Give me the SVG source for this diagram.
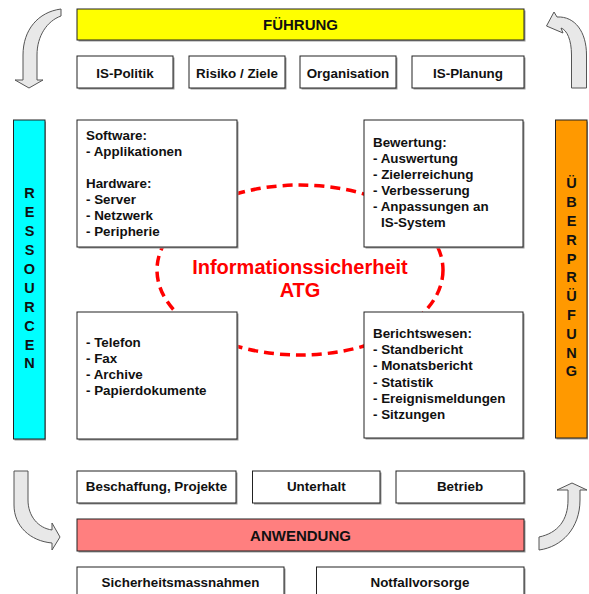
<svg xmlns="http://www.w3.org/2000/svg" width="589" height="594" viewBox="0 0 589 594">
  <style>
    text { font-family: "Liberation Sans", Arial, sans-serif; font-weight: bold; fill: #111; }
    .lbl { font-size: 13.4px; }
    .mid { text-anchor: middle; }
    .head { font-size: 15px; text-anchor: middle; }
    .vert { font-size: 14.5px; text-anchor: middle; }
    .box { fill: #fff; stroke: #222; stroke-width: 1; }
    .shadow { fill: #9a9a9a; }
    .arrow { fill: #e8e8e8; stroke: #555; stroke-width: 1; stroke-linejoin: miter; }
    .ring { fill: none; stroke: #f00; stroke-width: 3.5; stroke-dasharray: 10 6; }
    .core { font-size: 20px; text-anchor: middle; fill: #f00; }
  </style>

  <!-- dashed ring behind the four quadrant boxes -->
  <g id="core">
    <ellipse class="ring" cx="300" cy="270" rx="143" ry="85"/>
    <text class="core" x="300" y="274">Informationssicherheit</text>
    <text class="core" x="300" y="297">ATG</text>
  </g>

  <!-- cycle arrows -->
  <g id="connectors">
    <path class="arrow" d="M61,9 C38,12 23,30 23,55 L23,80 L15,80 L29,88 L43,80 L37,80 L37,55 C37,36 47,21 61,16 Z"/>
    <path class="arrow" d="M586.5,88 L586.5,55 C586.5,32 575,16 557,17 L554,12 L546.5,26 L563,33 L561,28 C567,30 571.5,40 571.5,55 L571.5,88 Z"/>
    <path class="arrow" d="M14,471 L28,471 L28,500 C28,516 38,528 52,530 L52,523 L60,537 L52,550 L52,543 C30,541 14,526 14,505 Z"/>
    <path class="arrow" d="M539,537 C558,533 568,520 568,500 L568,490 L557,490 L572,483 L587,490 L580,490 L580,500 C580,528 562,547 539,550 Z"/>
  </g>

  <!-- top band -->
  <g id="fuehrung">
    <rect class="shadow" x="78.5" y="10.5" width="447" height="31"/>
    <rect x="77" y="9" width="447" height="31" fill="#ffff00" stroke="#222"/>
    <text class="head" x="300.5" y="30">FÜHRUNG</text>
  </g>
  <g id="is-politik">
    <rect class="shadow" x="78.5" y="57.5" width="96" height="32"/>
    <rect class="box" x="77" y="56" width="96" height="32"/>
    <text class="lbl mid" x="125" y="78">IS-Politik</text>
  </g>
  <g id="risiko">
    <rect class="shadow" x="190.5" y="57.5" width="96" height="32"/>
    <rect class="box" x="189" y="56" width="96" height="32"/>
    <text class="lbl mid" x="237" y="78">Risiko / Ziele</text>
  </g>
  <g id="organisation">
    <rect class="shadow" x="301.5" y="57.5" width="96" height="32"/>
    <rect class="box" x="300" y="56" width="96" height="32"/>
    <text class="lbl mid" x="348" y="78">Organisation</text>
  </g>
  <g id="is-planung">
    <rect class="shadow" x="413.5" y="57.5" width="112" height="32"/>
    <rect class="box" x="412" y="56" width="112" height="32"/>
    <text class="lbl mid" x="468" y="78">IS-Planung</text>
  </g>

  <!-- side bars -->
  <g id="ressourcen">
    <rect class="shadow" x="14.5" y="121.5" width="31.5" height="319"/>
    <rect x="13.5" y="120" width="31.5" height="319" fill="#00ffff" stroke="#222"/>
    <text class="vert" x="29.5" y="198.3">R</text>
    <text class="vert" x="29.5" y="217.2">E</text>
    <text class="vert" x="29.5" y="236.1">S</text>
    <text class="vert" x="29.5" y="255">S</text>
    <text class="vert" x="29.5" y="273.9">O</text>
    <text class="vert" x="29.5" y="292.8">U</text>
    <text class="vert" x="29.5" y="311.7">R</text>
    <text class="vert" x="29.5" y="330.6">C</text>
    <text class="vert" x="29.5" y="349.5">E</text>
    <text class="vert" x="29.5" y="368.4">N</text>
  </g>
  <g id="ueberpruefung">
    <rect class="shadow" x="556.5" y="121.5" width="31.5" height="318"/>
    <rect x="555.5" y="120" width="31.5" height="318" fill="#ff9900" stroke="#222"/>
    <text class="vert" x="571.5" y="188.3">Ü</text>
    <text class="vert" x="571.5" y="207.1">B</text>
    <text class="vert" x="571.5" y="225.9">E</text>
    <text class="vert" x="571.5" y="244.7">R</text>
    <text class="vert" x="571.5" y="263.5">P</text>
    <text class="vert" x="571.5" y="282.3">R</text>
    <text class="vert" x="571.5" y="301.1">Ü</text>
    <text class="vert" x="571.5" y="319.9">F</text>
    <text class="vert" x="571.5" y="338.7">U</text>
    <text class="vert" x="571.5" y="357.5">N</text>
    <text class="vert" x="571.5" y="376.3">G</text>
  </g>

  <!-- quadrant boxes -->
  <g id="technik">
    <rect class="shadow" x="78.5" y="121.5" width="160" height="127"/>
    <rect class="box" x="77" y="120" width="160" height="127"/>
    <text class="lbl" x="86" y="140">Software:</text>
    <text class="lbl" x="86" y="156">- Applikationen</text>
    <text class="lbl" x="86" y="187.5">Hardware:</text>
    <text class="lbl" x="86" y="203.5">- Server</text>
    <text class="lbl" x="86" y="219.8">- Netzwerk</text>
    <text class="lbl" x="86" y="236">- Peripherie</text>
  </g>
  <g id="bewertung">
    <rect class="shadow" x="365.5" y="121.5" width="159" height="127"/>
    <rect class="box" x="364" y="120" width="159" height="127"/>
    <text class="lbl" x="373" y="147">Bewertung:</text>
    <text class="lbl" x="373" y="163">- Auswertung</text>
    <text class="lbl" x="373" y="179">- Zielerreichung</text>
    <text class="lbl" x="373" y="195">- Verbesserung</text>
    <text class="lbl" x="373" y="211">- Anpassungen an</text>
    <text class="lbl" x="381" y="227">IS-System</text>
  </g>
  <g id="kommunikation">
    <rect class="shadow" x="78.5" y="313.5" width="160" height="127"/>
    <rect class="box" x="77" y="312" width="160" height="127"/>
    <text class="lbl" x="86" y="346.5">- Telefon</text>
    <text class="lbl" x="86" y="362.5">- Fax</text>
    <text class="lbl" x="86" y="378.5">- Archive</text>
    <text class="lbl" x="86" y="395">- Papierdokumente</text>
  </g>
  <g id="berichtswesen">
    <rect class="shadow" x="365.5" y="313.5" width="159" height="126"/>
    <rect class="box" x="364" y="312" width="159" height="126"/>
    <text class="lbl" x="373" y="338">Berichtswesen:</text>
    <text class="lbl" x="373" y="354">- Standbericht</text>
    <text class="lbl" x="373" y="370">- Monatsbericht</text>
    <text class="lbl" x="373" y="386.5">- Statistik</text>
    <text class="lbl" x="373" y="402.5">- Ereignismeldungen</text>
    <text class="lbl" x="373" y="418.5">- Sitzungen</text>
  </g>

  <!-- bottom band -->
  <g id="beschaffung">
    <rect class="shadow" x="78.5" y="472.5" width="159" height="32"/>
    <rect class="box" x="77" y="471" width="159" height="32"/>
    <text class="lbl mid" x="156.5" y="491">Beschaffung, Projekte</text>
  </g>
  <g id="unterhalt">
    <rect class="shadow" x="254" y="472.5" width="127.5" height="32"/>
    <rect class="box" x="252.5" y="471" width="127.5" height="32"/>
    <text class="lbl mid" x="316.3" y="491">Unterhalt</text>
  </g>
  <g id="betrieb">
    <rect class="shadow" x="397.5" y="472.5" width="128" height="32"/>
    <rect class="box" x="396" y="471" width="128" height="32"/>
    <text class="lbl mid" x="460" y="491">Betrieb</text>
  </g>
  <g id="anwendung">
    <rect class="shadow" x="78.5" y="520.5" width="447" height="32"/>
    <rect x="77" y="519" width="447" height="32" fill="#ff7f7f" stroke="#222"/>
    <text class="head" x="300.5" y="540.5">ANWENDUNG</text>
  </g>
  <g id="sicherheitsmassnahmen">
    <rect class="shadow" x="78.5" y="568.5" width="207" height="40"/>
    <rect class="box" x="77" y="567" width="207" height="40"/>
    <text class="lbl mid" x="180.5" y="586.5">Sicherheitsmassnahmen</text>
  </g>
  <g id="notfallvorsorge">
    <rect class="shadow" x="318" y="568.5" width="207.5" height="40"/>
    <rect class="box" x="316.5" y="567" width="207.5" height="40"/>
    <text class="lbl mid" x="420" y="586.5">Notfallvorsorge</text>
  </g>
</svg>
